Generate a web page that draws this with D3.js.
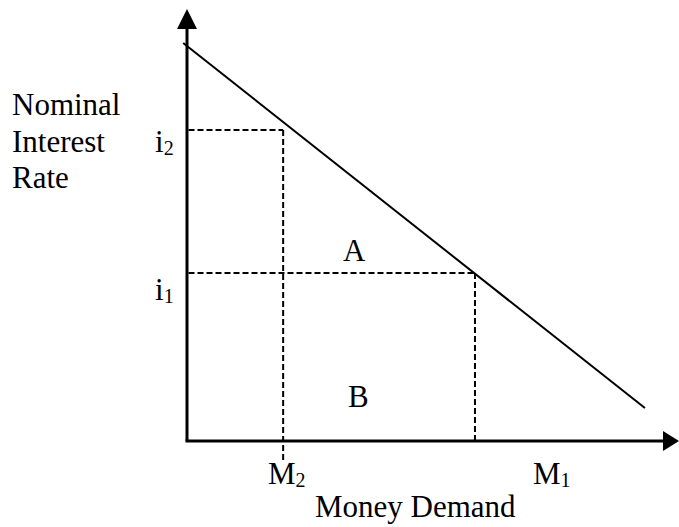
<!DOCTYPE html>
<html>
<head>
<meta charset="utf-8">
<script src="https://cdn.jsdelivr.net/npm/d3@7"></script>
<style>
  body { margin: 0; background: #fff; }
  text { font-family: "Liberation Serif", "Times New Roman", serif; fill: #000; }
</style>
</head>
<body>
<div class="canvas"></div>
<script>
// chart values (axis units 0..10)
const demandX = [-0.08, 9.62];
const demandY = [9.66, 0.8];
const rateNames = ["i1", "i2"];
const rateLevels = [4.08, 7.55];
const moneyNames = ["M1", "M2"];
const moneyLevels = [6.05, 2.02];
const dashBottoms = [0, -0.46];
const areaNames = ["A", "B"];

// dimensions
const w = 679;
const h = 527;
const origin = { x: 187, y: 441 };

const svg = d3.select(".canvas").append("svg").attr("width", w).attr("height", h);

// scales
const xScale = d3.scaleLinear().domain([0, 10]).range([origin.x, 663]);
const yScale = d3.scaleLinear().domain([0, 10]).range([origin.y, 29]);

// axes
svg.append("line")
  .attr("x1", xScale(0)).attr("y1", yScale(0))
  .attr("x2", xScale(0)).attr("y2", yScale(10))
  .attr("stroke", "#000").attr("stroke-width", 3);
svg.append("line")
  .attr("x1", xScale(0) - 1.5).attr("y1", yScale(0))
  .attr("x2", xScale(10)).attr("y2", yScale(0))
  .attr("stroke", "#000").attr("stroke-width", 3);

// arrow heads
svg.append("path")
  .attr("d", `M${xScale(0) - 10},${yScale(10)} L${xScale(0)},9 L${xScale(0) + 10},${yScale(10)} Z`)
  .attr("fill", "#000");
svg.append("path")
  .attr("d", `M${xScale(10)},${yScale(0) - 10} L679,${yScale(0)} L${xScale(10)},${yScale(0) + 10} Z`)
  .attr("fill", "#000");

// demand curve
svg.append("line")
  .attr("x1", xScale(demandX[0])).attr("y1", yScale(demandY[0]))
  .attr("x2", xScale(demandX[1])).attr("y2", yScale(demandY[1]))
  .attr("stroke", "#000").attr("stroke-width", 2);

// dashed guide lines
rateLevels.forEach((r, i) => {
  svg.append("line")
    .attr("x1", xScale(0) + 1.5).attr("y1", yScale(r))
    .attr("x2", xScale(moneyLevels[i])).attr("y2", yScale(r))
    .attr("stroke", "#000").attr("stroke-width", 2).attr("stroke-dasharray", "6,3");
  svg.append("line")
    .attr("x1", xScale(moneyLevels[i])).attr("y1", yScale(r))
    .attr("x2", xScale(moneyLevels[i])).attr("y2", yScale(dashBottoms[i]))
    .attr("stroke", "#000").attr("stroke-width", 2).attr("stroke-dasharray", "6,3");
});

// label with subscript
function subLabel(x, y, name) {
  const t = svg.append("text").attr("x", x).attr("y", y).attr("font-size", 31);
  t.append("tspan").text(name[0]);
  t.append("tspan").attr("font-size", 20).attr("dy", 3).text(name.slice(1));
}

// rate labels
subLabel(155, 152, rateNames[1]);
subLabel(155, 300, rateNames[0]);

// money labels
subLabel(268, 484, moneyNames[1]);
subLabel(533, 484, moneyNames[0]);

// area labels
svg.append("text").attr("x", 343).attr("y", 261).attr("font-size", 31).text(areaNames[0]);
svg.append("text").attr("x", 348).attr("y", 407).attr("font-size", 31).text(areaNames[1]);

// axis titles
const yTitle = svg.append("text").attr("font-size", 31);
["Nominal", "Interest", "Rate"].forEach((s, i) => {
  yTitle.append("tspan").attr("x", 12).attr("y", 115 + i * 36.5).text(s);
});
svg.append("text").attr("x", 315).attr("y", 517).attr("font-size", 31).text("Money Demand");
</script>
</body>
</html>
